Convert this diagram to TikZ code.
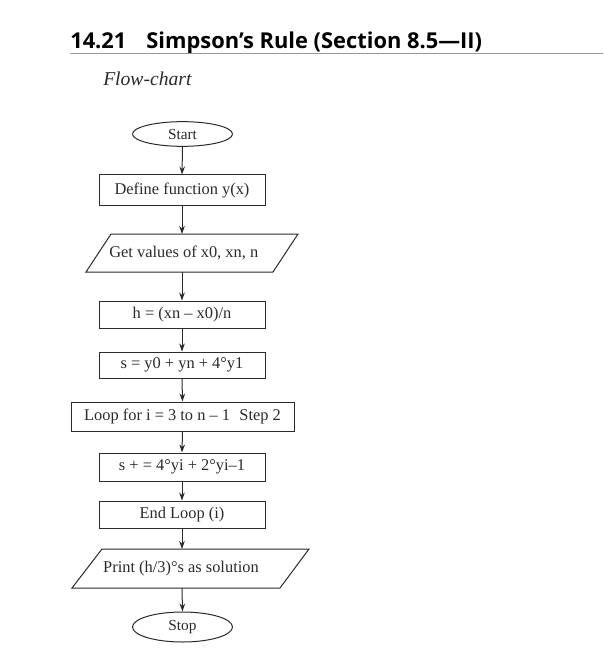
\documentclass[tikz,border=0pt]{standalone}
\usepackage{fontspec}
\setmainfont{Liberation Serif}
\newfontfamily\titlefont{Open Sans}
\usetikzlibrary{arrows.meta,shapes.geometric}
\definecolor{ink}{HTML}{2A2A2A}
\definecolor{rulec}{HTML}{9A9A9A}
\tikzset{
  box/.style={draw=ink, line width=0.75pt, inner sep=0pt, font=\fontsize{12.3}{14}\selectfont, text=ink},
  term/.style={draw=ink, line width=0.75pt, ellipse, inner sep=0pt, font=\fontsize{11.5}{14}\selectfont, text=ink},
  txt/.style={inner sep=0pt, font=\fontsize{12.3}{14}\selectfont, text=ink},
  para/.style={draw=ink, line width=0.75pt},
  arr/.style={draw=ink, line width=0.75pt, -{Stealth[length=6pt,width=4.2pt]}}
}
\begin{document}
\begin{tikzpicture}[x=0.75pt,y=-0.75pt]
\useasboundingbox (0,0) rectangle (603,652);
% title
\node[anchor=base west, inner sep=0pt, font=\titlefont\bfseries\fontsize{16.4}{19}\selectfont, text=black] (title) at (70,49) {14.21\hspace{15pt}Simpson’s Rule (Section 8.5—II)};
\draw[rulec, line width=1.1pt] (70,53.5) -- (603,53.5);
\node[anchor=base west, inner sep=0pt, font=\itshape\fontsize{14.7}{17}\selectfont, text=ink] (sub) at (103,86) {Flow-chart};
% nodes
\node[term, minimum width=75pt, minimum height=18.5pt] (start) at (182.5,134) {Start};
\node[box, minimum width=124.5pt, minimum height=23.25pt] (def) at (182,190.5) {Define function y(x)\hspace{8pt}};
% get values parallelogram
\draw[para] (111,234) -- (298,234) -- (273,272) -- (86,272) -- cycle;
\coordinate (getT) at (182,234);
\coordinate (getB) at (182,272);
\node[txt, anchor=west] (get) at (109,253) {Get values of x0, xn, n};
\node[box, minimum width=124.5pt, minimum height=20.25pt] (h) at (182,314.5) {h = (xn – x0)/n};
\node[box, minimum width=124.5pt, minimum height=19.5pt] (s) at (182,365) {s = y0 + yn + 4°y1\hspace{5pt}};
\node[box, minimum width=167.25pt, minimum height=21.75pt] (loop) at (182.5,416.5) {Loop for i = 3 to n – 1\hspace{7pt}Step 2};
\node[box, minimum width=124.5pt, minimum height=21pt] (sp) at (182,467) {s + = 4°yi + 2°yi–1};
\node[box, minimum width=124.5pt, minimum height=20.25pt] (end) at (182,514.5) {End Loop (i)};
% print parallelogram
\draw[para] (102,549) -- (309,549) -- (280,588) -- (72,588) -- cycle;
\coordinate (prT) at (182,549);
\coordinate (prB) at (182,588);
\node[txt] (pr) at (181,568.5) {Print (h/3)°s as solution};
\node[term, minimum width=75pt, minimum height=22.5pt] (stop) at (182.5,627) {Stop};
% arrows
\draw[arr] (start.south) -- (def.north);
\draw[arr] (def.south) -- (getT);
\draw[arr] (getB) -- (h.north);
\draw[arr] (h.south) -- (s.north);
\draw[arr] (s.south) -- (loop.north);
\draw[arr] (loop.south) -- (sp.north);
\draw[arr] (sp.south) -- (end.north);
\draw[arr] (end.south) -- (prT);
\draw[arr] (prB) -- (stop.north);
\end{tikzpicture}
\end{document}
